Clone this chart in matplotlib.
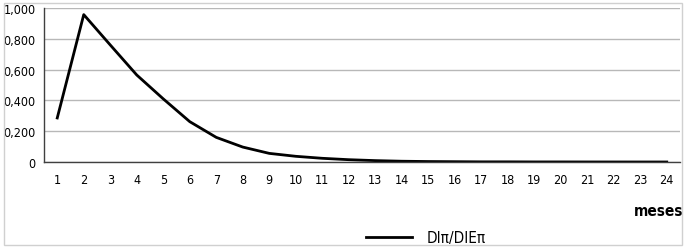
import matplotlib.pyplot as plt
from matplotlib.patches import Rectangle
from matplotlib.ticker import FuncFormatter

# Data
meses = list(range(1, 25))
valores = [0.286, 0.957, 0.760, 0.565, 0.410, 0.262, 0.160, 0.097, 0.056, 0.037,
           0.024, 0.015, 0.009, 0.005, 0.003, 0.002, 0.001, 0.001, 0.0005, 0.0005,
           0.0003, 0.0002, 0.0001, 0.0001]
serie = 'DI\u03c0/DIE\u03c0'

plt.rcParams['font.family'] = ['DejaVu Sans']
plt.rcParams['font.stretch'] = 'condensed'

fig = plt.figure(figsize=(6.87, 2.53), dpi=100)
ax = fig.add_axes([44 / 687, 1 - 163 / 253, 636 / 687, 154 / 253])

ax.plot(meses, valores, color='black', linewidth=2, label=serie)

ax.set_xlim(0.5, 24.5)
ax.set_ylim(0, 1.0)
ax.set_xticks(meses)
ax.set_yticks([0, 0.2, 0.4, 0.6, 0.8, 1.0])
ax.yaxis.set_major_formatter(FuncFormatter(
    lambda v, p: '0' if v == 0 else f'{v:.3f}'.replace('.', ',')))
ax.tick_params(length=0, labelsize=9, pad=8)
ax.tick_params(axis='y', pad=6)

ax.grid(axis='y', color='#b8b8b8', linewidth=1)
ax.set_axisbelow(True)
for s in ['top', 'right']:
    ax.spines[s].set_visible(False)
ax.spines['left'].set_color('#404040')
ax.spines['bottom'].set_color('#404040')
ax.spines['left'].set_linewidth(1)
ax.spines['bottom'].set_linewidth(1)

fig.text(683 / 687, 1 - 212 / 253, 'meses', ha='right', va='center',
         fontsize=11, fontweight='bold')

fig.legend(loc='center', bbox_to_anchor=(426 / 687, 1 - 239 / 253), frameon=False,
           fontsize=11, handlelength=3, handletextpad=1.0)

# light frame around the chart
fig.patches.append(Rectangle((4 / 687, 1 - 246 / 253), 678 / 687, 242 / 253,
                             transform=fig.transFigure, fill=False,
                             edgecolor='#d0d0d0', linewidth=1))

fig.savefig('out.png', dpi=100)
